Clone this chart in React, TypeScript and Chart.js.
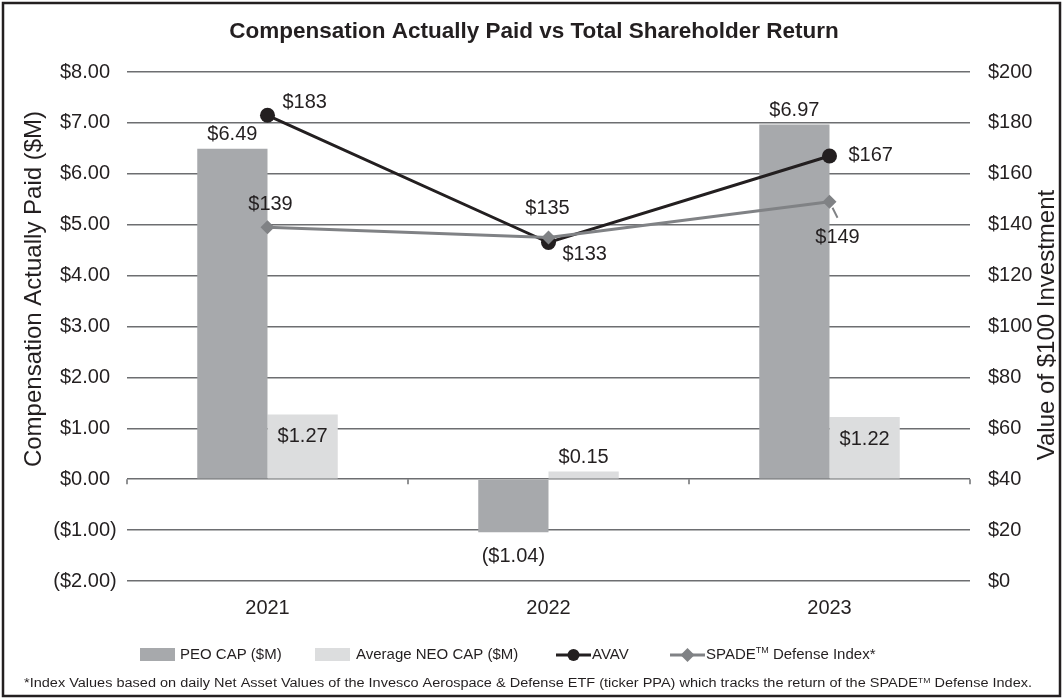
import React, { useEffect, useRef } from 'react';
import { Chart, registerables } from 'chart.js';

Chart.register(...registerables);

// ---------- data ----------
const years = ['2021', '2022', '2023'];
const peoCap = [6.49, -1.04, 6.97];
const neoCap = [1.27, 0.15, 1.22];
const avav = [183, 133, 167];
const spade = [139, 135, 149];

const leftMin = -2;
const leftMax = 8;
const leftStep = 1;
const rightMin = 0;
const rightMax = 200;
const rightStep = 20;

const titleText = 'Compensation Actually Paid vs Total Shareholder Return';
const leftAxisTitle = 'Compensation Actually Paid ($M)';
const rightAxisTitle = 'Value of $100 Investment';
const legendLabels = ['PEO CAP ($M)', 'Average NEO CAP ($M)', 'AVAV', 'SPADE|TM| Defense Index*'];
const footnote = '*Index Values based on daily Net Asset Values of the Invesco Aerospace & Defense ETF (ticker PPA) which tracks the return of the SPADE|TM| Defense Index.';

// ---------- styles ----------
const FONT = '"Liberation Sans", Arial, Helvetica, sans-serif';
const TEXT = '#231f20';
const GRID = '#6d6e71';
const PEO_COLOR = '#a7a9ac';
const NEO_COLOR = '#dcddde';
const AVAV_COLOR = '#231f20';
const SPADE_COLOR = '#808285';

// label placement (styling, not data)
const peoLabelPlace = ['out', 'out', 'out'];
const neoLabelPlace = ['in', 'out', 'in'];
const avavLabelOffset = [[15, -13], [14, 12], [19, -1]];
const spadeLabelOffset = [[3, -23], [-1, -29], [8, 36]];
const spadeLeader: (number[][] | null)[] = [null, null, [[3, 6], [8, 16]]];

const SX = 1;
const TICK_SIZE = 20;

function money2(v: number) {
  const s = '$' + Math.abs(v).toFixed(2);
  return v < 0 ? '(' + s + ')' : s;
}

type TOpt = {
  size: number;
  bold?: boolean;
  color?: string;
  align?: CanvasTextAlign;
  base?: CanvasTextBaseline;
  sx?: number;
  rot?: number;
};

function txt(ctx: CanvasRenderingContext2D, s: string, x: number, y: number, o: TOpt) {
  ctx.save();
  ctx.translate(x, y);
  if (o.rot) ctx.rotate(o.rot);
  ctx.scale(o.sx ?? 1, 1);
  ctx.font = `${o.bold ? 'bold ' : ''}${o.size}px ${FONT}`;
  ctx.fillStyle = o.color ?? TEXT;
  ctx.textAlign = o.align ?? 'center';
  ctx.textBaseline = o.base ?? 'middle';
  ctx.fillText(s, 0, 0);
  ctx.restore();
}

// rich text with |TM| superscript; left aligned, returns width
function rich(ctx: CanvasRenderingContext2D, s: string, x: number, y: number, size: number, sx: number, draw = true) {
  const parts = s.split('|');
  let cx = 0;
  ctx.save();
  ctx.translate(x, y);
  ctx.scale(sx, 1);
  ctx.fillStyle = TEXT;
  ctx.textBaseline = 'middle';
  ctx.textAlign = 'left';
  parts.forEach((p, i) => {
    const sup = i % 2 === 1;
    const fs = sup ? size * 0.6 : size;
    ctx.font = `${fs}px ${FONT}`;
    if (draw) ctx.fillText(p, cx, sup ? -size * 0.28 : 0);
    cx += ctx.measureText(p).width;
  });
  ctx.restore();
  return cx * sx;
}

const decorPlugin = {
  id: 'decor',
  beforeDraw(chart: any) {
    const ctx: CanvasRenderingContext2D = chart.ctx;
    ctx.save();
    ctx.fillStyle = '#ffffff';
    ctx.fillRect(0, 0, chart.width, chart.height);
    ctx.restore();
  },
  afterDatasetsDraw(chart: any) {
    const ctx: CanvasRenderingContext2D = chart.ctx;
    const yL = chart.scales.y;
    const area = chart.chartArea;
    // small ticks on the zero line at category boundaries
    const y0 = yL.getPixelForValue(0);
    ctx.save();
    ctx.strokeStyle = GRID;
    ctx.lineWidth = 1.5;
    const n = years.length;
    for (let i = 0; i <= n; i++) {
      const x = area.left + (i * (area.right - area.left)) / n;
      ctx.beginPath();
      ctx.moveTo(x, y0);
      ctx.lineTo(x, y0 + 5);
      ctx.stroke();
    }
    ctx.restore();

    // bar labels
    const peoMeta = chart.getDatasetMeta(0);
    const neoMeta = chart.getDatasetMeta(1);
    const barLabel = (meta: any, vals: number[], place: string[]) => {
      meta.data.forEach((el: any, i: number) => {
        const v = vals[i];
        let y;
        if (place[i] === 'in') y = el.y + 22;
        else y = v >= 0 ? el.y - 14 : el.y + 24;
        txt(ctx, money2(v), el.x, y, { size: TICK_SIZE, sx: SX });
      });
    };
    barLabel(peoMeta, peoCap, peoLabelPlace);
    barLabel(neoMeta, neoCap, neoLabelPlace);

    // line labels
    const avMeta = chart.getDatasetMeta(2);
    avMeta.data.forEach((el: any, i: number) => {
      const [dx, dy] = avavLabelOffset[i];
      txt(ctx, '$' + avav[i], el.x + dx, el.y + dy, { size: TICK_SIZE, sx: SX, align: 'left' });
    });
    const spMeta = chart.getDatasetMeta(3);
    spMeta.data.forEach((el: any, i: number) => {
      const [dx, dy] = spadeLabelOffset[i];
      const ld = spadeLeader[i];
      if (ld) {
        ctx.save();
        ctx.strokeStyle = SPADE_COLOR;
        ctx.lineWidth = 2;
        ctx.beginPath();
        ctx.moveTo(el.x + ld[0][0], el.y + ld[0][1]);
        ctx.lineTo(el.x + ld[1][0], el.y + ld[1][1]);
        ctx.stroke();
        ctx.restore();
      }
      txt(ctx, '$' + spade[i], el.x + dx, el.y + dy, { size: TICK_SIZE, sx: SX });
    });
  },
  afterDraw(chart: any) {
    const ctx: CanvasRenderingContext2D = chart.ctx;
    const area = chart.chartArea;
    const yL = chart.scales.y;
    const yR = chart.scales.y1;
    const xS = chart.scales.x;

    // frame
    ctx.save();
    ctx.strokeStyle = TEXT;
    ctx.lineWidth = 2.5;
    ctx.strokeRect(3, 3, chart.width - 6, chart.height - 6);
    ctx.restore();

    // title
    txt(ctx, titleText, 534, 32, { size: 22.5, bold: true });

    // left ticks
    yL.ticks.forEach((t: any) => {
      const y = yL.getPixelForValue(t.value);
      const v = t.value;
      const s = '$' + Math.abs(v).toFixed(2);
      const xr = area.left - 17;
      if (v < 0) {
        txt(ctx, '(' + s, xr, y, { size: TICK_SIZE, sx: SX, align: 'right' });
        txt(ctx, ')', xr, y, { size: TICK_SIZE, sx: SX, align: 'left' });
      } else {
        txt(ctx, s, xr, y, { size: TICK_SIZE, sx: SX, align: 'right' });
      }
    });
    // right ticks
    yR.ticks.forEach((t: any) => {
      const y = yR.getPixelForValue(t.value);
      txt(ctx, '$' + t.value, area.right + 18, y, { size: TICK_SIZE, sx: SX, align: 'left' });
    });
    // x ticks
    years.forEach((yr, i) => {
      txt(ctx, yr, xS.getPixelForValue(i), area.bottom + 27, { size: TICK_SIZE, sx: SX });
    });

    // axis titles
    txt(ctx, leftAxisTitle, 34, 289, { size: 24, rot: -Math.PI / 2 });
    txt(ctx, rightAxisTitle, 1047, 325, { size: 24, rot: -Math.PI / 2 });

    // legend
    const ly = 655;
    const lsize = 15;
    ctx.save();
    ctx.fillStyle = PEO_COLOR;
    ctx.fillRect(140, ly - 7, 35, 13);
    ctx.fillStyle = NEO_COLOR;
    ctx.fillRect(315, ly - 7, 35, 13);
    ctx.restore();
    rich(ctx, legendLabels[0], 180, ly, lsize, 1);
    rich(ctx, legendLabels[1], 356, ly, lsize, 1);
    ctx.save();
    ctx.strokeStyle = AVAV_COLOR;
    ctx.lineWidth = 3;
    ctx.beginPath();
    ctx.moveTo(556, ly);
    ctx.lineTo(591, ly);
    ctx.stroke();
    ctx.fillStyle = AVAV_COLOR;
    ctx.beginPath();
    ctx.arc(573.5, ly, 6, 0, Math.PI * 2);
    ctx.fill();
    ctx.strokeStyle = SPADE_COLOR;
    ctx.beginPath();
    ctx.moveTo(670, ly);
    ctx.lineTo(705, ly);
    ctx.stroke();
    ctx.fillStyle = SPADE_COLOR;
    ctx.beginPath();
    ctx.moveTo(687.5 - 7, ly);
    ctx.lineTo(687.5, ly - 7);
    ctx.lineTo(687.5 + 7, ly);
    ctx.lineTo(687.5, ly + 7);
    ctx.closePath();
    ctx.fill();
    ctx.restore();
    rich(ctx, legendLabels[2], 592, ly, lsize, 1);
    rich(ctx, legendLabels[3], 706, ly, lsize, 1);

    // footnote
    const fw = rich(ctx, footnote, 0, 0, 12.5, 1, false);
    const fsx = 1008 / fw;
    rich(ctx, footnote, 24, 684, 12.5, fsx);
  },
};

export default function App() {
  const ref = useRef<HTMLCanvasElement | null>(null);

  useEffect(() => {
    document.body.style.margin = '0';
    const canvas = ref.current;
    if (!canvas) return;
    const chart = new Chart(canvas, {
      type: 'bar',
      data: {
        labels: years,
        datasets: [
          {
            type: 'bar',
            label: 'PEO CAP ($M)',
            data: peoCap,
            backgroundColor: PEO_COLOR,
            yAxisID: 'y',
            categoryPercentage: 0.5,
            barPercentage: 1.0,
            order: 3,
          },
          {
            type: 'bar',
            label: 'Average NEO CAP ($M)',
            data: neoCap,
            backgroundColor: NEO_COLOR,
            yAxisID: 'y',
            categoryPercentage: 0.5,
            barPercentage: 1.0,
            order: 3,
          },
          {
            type: 'line',
            label: 'AVAV',
            data: avav,
            borderColor: AVAV_COLOR,
            backgroundColor: AVAV_COLOR,
            borderWidth: 3,
            pointRadius: 7.5,
            pointBorderWidth: 0,
            pointStyle: 'circle',
            tension: 0,
            yAxisID: 'y1',
            order: 2,
          },
          {
            type: 'line',
            label: 'SPADE Defense Index*',
            data: spade,
            borderColor: SPADE_COLOR,
            backgroundColor: SPADE_COLOR,
            borderWidth: 3,
            pointRadius: 7,
            pointBorderWidth: 0,
            pointStyle: 'rectRot',
            tension: 0,
            yAxisID: 'y1',
            order: 1,
          },
        ],
      } as any,
      options: {
        responsive: false,
        animation: false,
        devicePixelRatio: 1,
        layout: { padding: { top: 72, left: 0, right: 0, bottom: 0 } },
        plugins: {
          legend: { display: false },
          title: { display: false },
          tooltip: { enabled: false },
        },
        scales: {
          x: {
            type: 'category',
            grid: { display: false, drawTicks: false },
            border: { display: false },
            ticks: { display: false },
            afterFit: (s: any) => {
              s.height = 118;
            },
          },
          y: {
            type: 'linear',
            position: 'left',
            min: leftMin,
            max: leftMax,
            ticks: { display: false, stepSize: leftStep },
            grid: { color: GRID, lineWidth: 1.5, drawTicks: false },
            border: { display: false },
            afterFit: (s: any) => {
              s.width = 127;
            },
          },
          y1: {
            type: 'linear',
            position: 'right',
            min: rightMin,
            max: rightMax,
            ticks: { display: false, stepSize: rightStep },
            grid: { display: false, drawTicks: false },
            border: { display: false },
            afterFit: (s: any) => {
              s.width = 93;
            },
          },
        },
      } as any,
      plugins: [decorPlugin as any],
    });
    return () => chart.destroy();
  }, []);

  return (
    <div style={{ width: 1063, height: 699 }}>
      <canvas ref={ref} width={1063} height={699} style={{ display: 'block' }} />
    </div>
  );
}
